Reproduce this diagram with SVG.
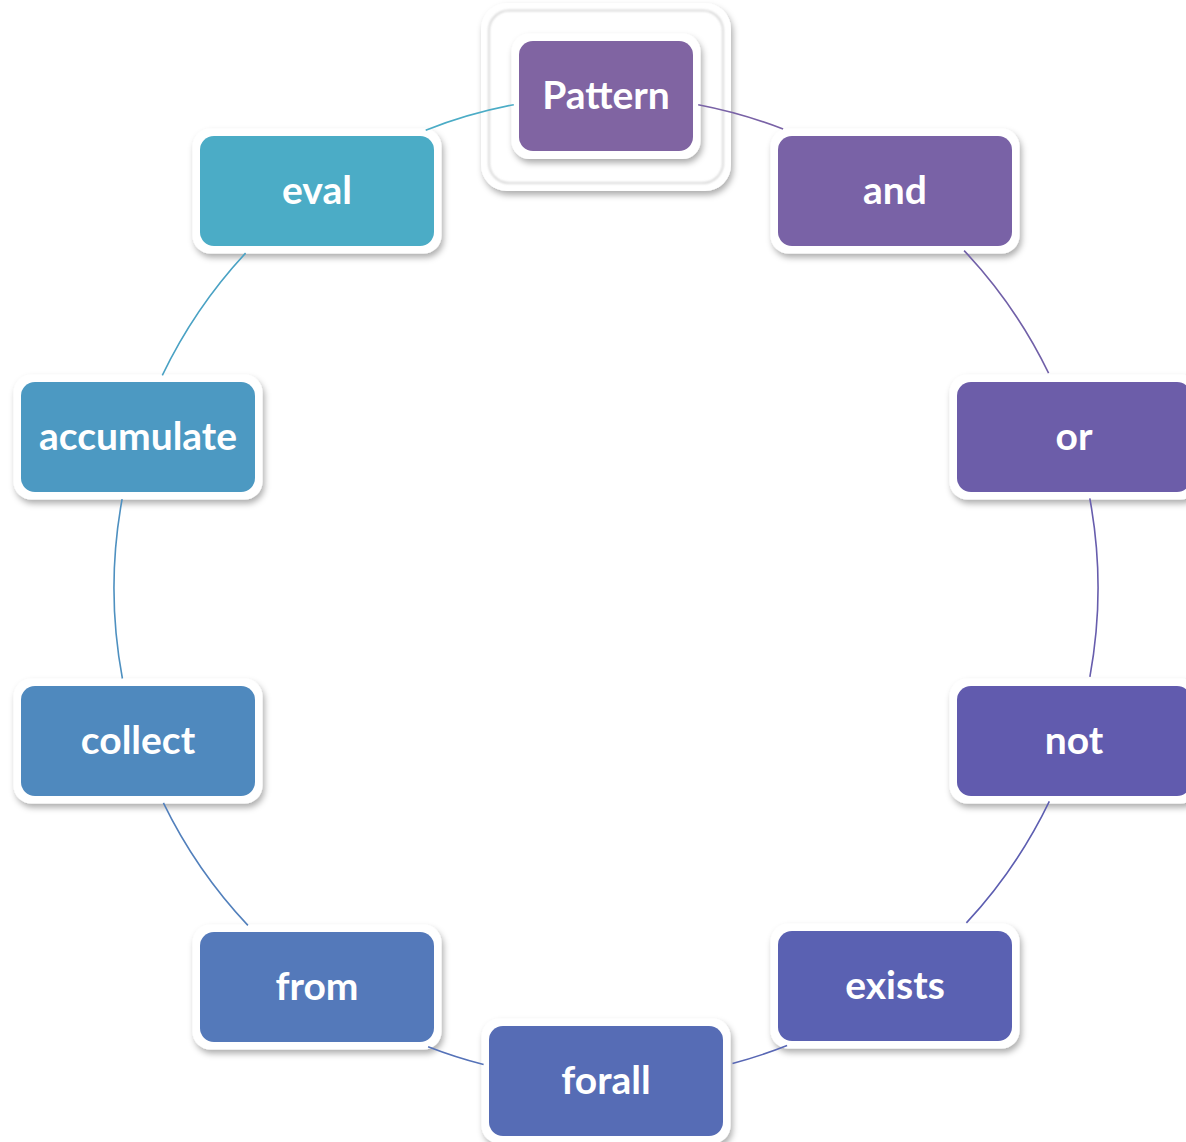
<svg xmlns="http://www.w3.org/2000/svg" width="1186" height="1142" viewBox="0 0 1186 1142">
<defs>
<filter id="sh" x="-20%" y="-20%" width="140%" height="150%">
<feDropShadow dx="2" dy="4" stdDeviation="3" flood-color="#000" flood-opacity="0.32"/>
</filter>
<filter id="blur1" x="-10%" y="-10%" width="120%" height="120%">
<feGaussianBlur stdDeviation="1.2"/>
</filter>
<style>
.bd{fill:#fff;filter:url(#sh)}
.lb{font-family:Lato,"Open Sans","Liberation Sans",sans-serif;font-weight:bold;font-size:39px;fill:#fff;text-anchor:middle}
.ar{fill:none;stroke-width:1.6}
</style>
</defs>
<rect width="1186" height="1142" fill="#fff"/>
<g id="pattern-frame">
<rect x="481" y="3" width="250" height="188" rx="26" class="bd"/>
<rect x="489" y="10.5" width="234" height="172.5" rx="20" fill="none" stroke="#cfcfcf" stroke-width="1.5" filter="url(#blur1)"/>
</g>
<g id="node-pattern">
<rect x="511.5" y="33.5" width="189" height="125.5" rx="18" class="bd"/>
<rect x="519" y="41" width="174" height="110" rx="14" fill="#8064A2"/>
<text class="lb" x="606" y="109">Pattern</text>
</g>
<g id="node-and">
<rect x="770.5" y="128.5" width="249" height="125" rx="18" class="bd"/>
<rect x="778" y="136" width="234" height="110" rx="14" fill="#7962A6"/>
<text class="lb" x="895" y="204">and</text>
</g>
<g id="node-or">
<rect x="949.5" y="374.5" width="249" height="125" rx="18" class="bd"/>
<rect x="957" y="382" width="234" height="110" rx="14" fill="#6C5DA9"/>
<text class="lb" x="1074" y="450">or</text>
</g>
<g id="node-not">
<rect x="949.5" y="678.5" width="249" height="125" rx="18" class="bd"/>
<rect x="957" y="686" width="234" height="110" rx="14" fill="#615BAE"/>
<text class="lb" x="1074" y="754">not</text>
</g>
<g id="node-exists">
<rect x="770.5" y="923.5" width="249" height="125" rx="18" class="bd"/>
<rect x="778" y="931" width="234" height="110" rx="14" fill="#5A61B2"/>
<text class="lb" x="895" y="999">exists</text>
</g>
<g id="node-forall">
<rect x="481.5" y="1018.5" width="249" height="125" rx="18" class="bd"/>
<rect x="489" y="1026" width="234" height="110" rx="14" fill="#566CB5"/>
<text class="lb" x="606" y="1094">forall</text>
</g>
<g id="node-from">
<rect x="192.5" y="924.5" width="249" height="125" rx="18" class="bd"/>
<rect x="200" y="932" width="234" height="110" rx="14" fill="#5479BA"/>
<text class="lb" x="317" y="1000">from</text>
</g>
<g id="node-collect">
<rect x="13.5" y="678.5" width="249" height="125" rx="18" class="bd"/>
<rect x="21" y="686" width="234" height="110" rx="14" fill="#4F89BE"/>
<text class="lb" x="138" y="754">collect</text>
</g>
<g id="node-accumulate">
<rect x="13.5" y="374.5" width="249" height="125" rx="18" class="bd"/>
<rect x="21" y="382" width="234" height="110" rx="14" fill="#4C99C2"/>
<text class="lb" x="138" y="450">accumulate</text>
</g>
<g id="node-eval">
<rect x="192.5" y="128.5" width="249" height="125" rx="18" class="bd"/>
<rect x="200" y="136" width="234" height="110" rx="14" fill="#4BACC6"/>
<text class="lb" x="317" y="204">eval</text>
</g>
<g id="connectors">
<path class="ar" stroke="#7962A6" d="M698.2,104.7 A492,492 0 0 1 783.1,129.0"/>
<path class="ar" stroke="#7160A8" d="M964.1,250.6 A492,492 0 0 1 1048.6,373.1"/>
<path class="ar" stroke="#675DAD" d="M1089.8,498.4 A492,492 0 0 1 1089.9,676.8"/>
<path class="ar" stroke="#5D5EB1" d="M1049.3,801.4 A492,492 0 0 1 966.4,922.9"/>
<path class="ar" stroke="#5867B4" d="M787.1,1045.5 A492,492 0 0 1 732.5,1063.5"/>
<path class="ar" stroke="#5572B8" d="M483.6,1064.5 A492,492 0 0 1 428.1,1046.7"/>
<path class="ar" stroke="#5280BC" d="M247.9,925.4 A492,492 0 0 1 163.4,802.9"/>
<path class="ar" stroke="#4E90C0" d="M122.4,678.5 A492,492 0 0 1 122.1,499.2"/>
<path class="ar" stroke="#4AA2C4" d="M162.3,375.4 A492,492 0 0 1 245.6,253.1"/>
<path class="ar" stroke="#4BACC6" d="M425.7,130.2 A492,492 0 0 1 513.8,104.7"/>
</g>
</svg>
